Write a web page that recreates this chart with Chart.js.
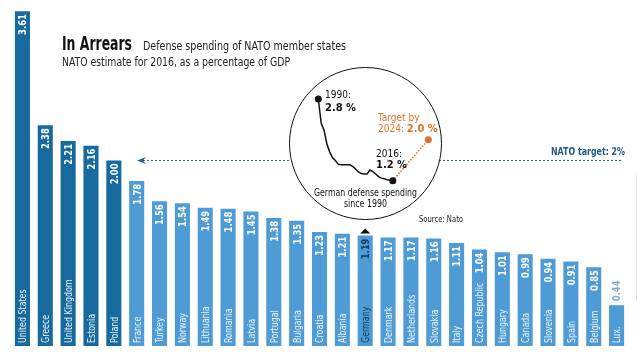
<!DOCTYPE html>
<html>
<head>
<meta charset="utf-8">
<script src="https://cdn.jsdelivr.net/npm/chart.js@4"></script>
<style>
  body { margin: 0; background: #fff; }
  #wrap { position: relative; width: 640px; height: 359px; overflow: hidden; }
  #main { position: absolute; left: 0; top: 0; }
  #circle {
    position: absolute; left: 289px; top: 67px; width: 153px; height: 153px;
    box-sizing: border-box; border: 1.5px solid #111; border-radius: 50%; background: #fff;
  }
  #inset { position: absolute; left: 289px; top: 67px; }
</style>
</head>
<body>
<div id="wrap">
  <canvas id="main" width="640" height="359"></canvas>
  <div id="circle"></div>
  <canvas id="inset" width="153" height="153"></canvas>
</div>
<script>
// data
const countries = ['United States', 'Greece', 'United Kingdom', 'Estonia', 'Poland', 'France', 'Turkey', 'Norway',
  'Lithuania', 'Romania', 'Latvia', 'Portugal', 'Bulgaria', 'Croatia', 'Albania', 'Germany', 'Denmark',
  'Netherlands', 'Slovakia', 'Italy', 'Czech Republic', 'Hungary', 'Canada', 'Slovenia', 'Spain', 'Belgium', 'Lux.'];
const shares = [3.61, 2.38, 2.21, 2.16, 2.00, 1.78, 1.56, 1.54, 1.49, 1.48, 1.45, 1.38, 1.35, 1.23, 1.21, 1.19,
  1.17, 1.17, 1.16, 1.11, 1.04, 1.01, 0.99, 0.94, 0.91, 0.85, 0.44];
const natoTarget = 2;

const germanyYears = [1990, 1991, 1992, 1993, 1994, 1995, 1996, 1997, 1998, 1999, 2000, 2001, 2002, 2003,
  2004, 2005, 2006, 2007, 2008, 2009, 2010, 2011, 2012, 2013, 2014, 2015, 2016];
const germanyShare = [2.8, 2.33, 2.19, 1.92, 1.76, 1.65, 1.59, 1.52, 1.51, 1.51, 1.51, 1.51, 1.48, 1.43,
  1.37, 1.34, 1.33, 1.33, 1.41, 1.38, 1.33, 1.28, 1.25, 1.24, 1.22, 1.21, 1.2];
const targetYears = [2016, 2024];
const targetShare = [1.2, 2.0];

const DARK = '#176a9e';
const LIGHT = '#4f9bd6';
const NAVY = '#0f3a5c';
const ORANGE = '#e0712b';
const NARROW = '"Liberation Sans Narrow", "DejaVu Sans Condensed", "Roboto", sans-serif';

// 회전된 좁은 글씨
function rotatedText(ctx, text, x, y, align, squeeze) {
  ctx.save();
  ctx.translate(x, y);
  ctx.rotate(-Math.PI / 2);
  ctx.scale(squeeze, 1);
  ctx.textAlign = align;
  ctx.textBaseline = 'middle';
  ctx.fillText(text, 0, 1);
  ctx.restore();
}

// 막대 안쪽 라벨 + 제목, 목표선
const mainLabels = {
  id: 'mainLabels',
  beforeDatasetsDraw(chart) {
    const ctx = chart.ctx;
    const y2 = chart.scales.y.getPixelForValue(natoTarget);
    ctx.save();
    // dashed target arrow
    ctx.strokeStyle = '#2c5e86';
    ctx.lineWidth = 1;
    ctx.setLineDash([2, 2]);
    ctx.beginPath();
    ctx.moveTo(143, y2);
    ctx.lineTo(623, y2);
    ctx.stroke();
    ctx.setLineDash([]);
    ctx.fillStyle = '#2c5e86';
    ctx.beginPath();
    ctx.moveTo(137, y2);
    ctx.lineTo(146, y2 - 3.5);
    ctx.lineTo(143, y2);
    ctx.lineTo(146, y2 + 3.5);
    ctx.closePath();
    ctx.fill();
    ctx.font = 'bold 11px ' + NARROW;
    ctx.textAlign = 'right';
    ctx.textBaseline = 'middle';
    ctx.fillStyle = '#245a86';
    ctx.fillText('NATO target: 2%', 625, y2 - 8, 74);
    ctx.restore();
  },
  afterDatasetsDraw(chart) {
    const ctx = chart.ctx;
    const meta = chart.getDatasetMeta(0);
    ctx.save();
    meta.data.forEach(function (bar, i) {
      const isGermany = countries[i] === 'Germany';
      const isLast = i === countries.length - 1;
      // country name
      ctx.font = '11px ' + NARROW;
      ctx.fillStyle = isGermany ? NAVY : '#eef5fc';
      rotatedText(ctx, countries[i], bar.x, bar.base - 3, 'left', 0.8);
      // value
      ctx.font = 'bold 11px ' + NARROW;
      if (isLast) {
        ctx.fillStyle = '#86a9c8';
        rotatedText(ctx, shares[i].toFixed(2), bar.x, bar.y - 4, 'left', 0.85);
      } else {
        ctx.fillStyle = isGermany ? NAVY : '#fff';
        rotatedText(ctx, shares[i].toFixed(2), bar.x, bar.y + 3, 'right', 0.85);
      }
      if (isGermany) {
        ctx.fillStyle = '#111';
        ctx.beginPath();
        ctx.moveTo(bar.x - 5, bar.y - 2);
        ctx.lineTo(bar.x + 5, bar.y - 2);
        ctx.lineTo(bar.x, bar.y - 7);
        ctx.closePath();
        ctx.fill();
      }
    });

    // title
    ctx.textAlign = 'left';
    ctx.textBaseline = 'alphabetic';
    ctx.fillStyle = '#111';
    ctx.font = 'bold 19px ' + NARROW;
    ctx.fillText('In Arrears', 62, 50, 70);
    ctx.fillStyle = '#222';
    ctx.font = '12px ' + NARROW;
    ctx.fillText('Defense spending of NATO member states', 143, 50, 203);
    ctx.fillText('NATO estimate for 2016, as a percentage of GDP', 62, 66, 228);
    ctx.font = '9px ' + NARROW;
    ctx.fillText('Source: Nato', 419, 222, 44);

    // right edge fold
    ctx.strokeStyle = '#e4e4e4';
    ctx.lineWidth = 1;
    ctx.beginPath();
    ctx.moveTo(636.5, 175);
    ctx.lineTo(636.5, 300);
    ctx.stroke();
    ctx.restore();
  },
};

new Chart(document.getElementById('main'), {
  type: 'bar',
  data: {
    labels: countries,
    datasets: [
      {
        data: shares,
        backgroundColor: shares.map(function (v) { return v >= natoTarget ? DARK : LIGHT; }),
        borderWidth: 0,
        categoryPercentage: 1,
        barPercentage: 0.66,
      },
    ],
  },
  options: {
    responsive: false,
    animation: false,
    devicePixelRatio: 1,
    layout: { padding: { left: 11, right: 12, top: 0, bottom: 13 } },
    plugins: { legend: { display: false }, tooltip: { enabled: false } },
    scales: {
      x: { display: false },
      y: { display: false, min: 0, max: 3.73 },
    },
  },
  plugins: [mainLabels],
});

// 원 안의 독일 국방비 추이
const insetLabels = {
  id: 'insetLabels',
  afterDraw(chart) {
    const ctx = chart.ctx;
    ctx.save();
    ctx.textAlign = 'left';
    ctx.textBaseline = 'middle';
    ctx.fillStyle = '#111';
    ctx.font = '10px ' + NARROW;
    ctx.fillText('1990:', 36, 28);
    ctx.fillText('2016:', 87, 87);
    ctx.font = 'bold 11px ' + NARROW;
    ctx.fillText('2.8 %', 36, 41);
    ctx.fillText('1.2 %', 87, 98);
    ctx.fillStyle = ORANGE;
    ctx.font = '10px ' + NARROW;
    ctx.fillText('Target by', 89, 51);
    ctx.fillText('2024: ', 89, 62);
    const w = ctx.measureText('2024: ').width;
    ctx.font = 'bold 11px ' + NARROW;
    ctx.fillText('2.0 %', 89 + w, 62);
    ctx.fillStyle = '#111';
    ctx.textAlign = 'center';
    ctx.font = '11px ' + NARROW;
    ctx.fillText('German defense spending', 76.5, 126, 103);
    ctx.fillText('since 1990', 76.5, 137, 43);
    ctx.restore();
  },
};

new Chart(document.getElementById('inset'), {
  type: 'line',
  data: {
    datasets: [
      {
        data: germanyYears.map(function (yr, i) { return { x: yr, y: germanyShare[i] }; }),
        borderColor: '#111',
        borderWidth: 1.5,
        tension: 0,
        pointRadius: germanyYears.map(function (yr, i) { return i === 0 || i === germanyYears.length - 1 ? 3.5 : 0; }),
        pointBackgroundColor: '#111',
        pointBorderWidth: 0,
        clip: false,
      },
      {
        data: targetYears.map(function (yr, i) { return { x: yr, y: targetShare[i] }; }),
        xAxisID: 'x2',
        borderColor: ORANGE,
        borderWidth: 1.5,
        borderDash: [1.5, 1.5],
        pointRadius: [0, 3.5],
        pointBackgroundColor: ORANGE,
        pointBorderWidth: 0,
        clip: false,
      },
    ],
  },
  options: {
    responsive: false,
    animation: false,
    devicePixelRatio: 1,
    layout: { padding: { left: 29.3, right: 13.7, top: 32, bottom: 39.3 } },
    plugins: { legend: { display: false }, tooltip: { enabled: false } },
    scales: {
      x: { type: 'linear', display: false, min: 1990, max: 2028.4 },
      x2: { type: 'linear', display: false, min: 1999.3, max: 2024 },
      y: { display: false, min: 1.2, max: 2.8 },
    },
  },
  plugins: [insetLabels],
});
</script>
</body>
</html>
